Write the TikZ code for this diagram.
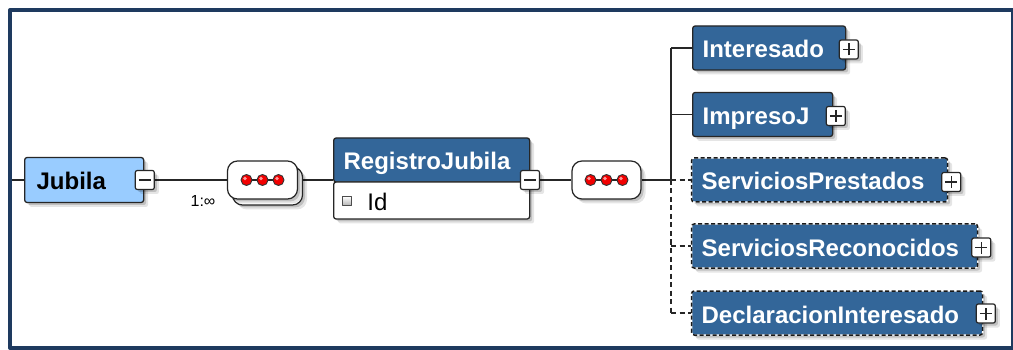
\documentclass[tikz,border=0pt]{standalone}
\usepackage{fontspec}
\setmainfont{Liberation Sans}
\usetikzlibrary{shadows,backgrounds}
\definecolor{hdrblue}{HTML}{336699}
\definecolor{ltblue}{HTML}{99CCFF}
\definecolor{framecol}{HTML}{1E3A5F}
\newcommand\elfont{\bfseries\fontsize{24}{28}\selectfont}
\newcommand\idfont{\fontsize{24}{28}\selectfont}
\newcommand\multfont{\fontsize{16}{18}\selectfont}
\begin{document}
\begin{tikzpicture}[x=1pt,y=-1pt,line join=round,
  shad/.style={drop shadow={shadow xshift=4.5pt,shadow yshift=-4.5pt,fill=black,opacity=.10},
               drop shadow={shadow xshift=2.5pt,shadow yshift=-2.5pt,fill=black,opacity=.16}},
  elem/.style={rectangle, rounded corners=2.5pt, draw=black!85, line width=1.3pt,
    fill=hdrblue, text=white, minimum height=44pt, inner xsep=10pt, inner ysep=0pt,
    anchor=west, text height=20pt, text depth=0pt, align=left, font=\elfont, shad},
  opt/.style={elem, draw=white, postaction={draw=black!90, line width=1.5pt, dash pattern=on 4pt off 2.5pt}},
  pmbox/.style={rectangle, draw=black!85, line width=1.2pt, fill=white, rounded corners=2pt,
    minimum size=19pt, inner sep=0pt, shad},
  minusbox/.style={pmbox, path picture={\draw[line width=1.6pt] ([xshift=-6pt]path picture bounding box.center) -- ([xshift=6pt]path picture bounding box.center);}},
  plusbox/.style={pmbox, path picture={\draw[line width=1.6pt] ([xshift=-6pt]path picture bounding box.center) -- ([xshift=6pt]path picture bounding box.center) ([yshift=-6pt]path picture bounding box.center) -- ([yshift=6pt]path picture bounding box.center);}},
  seqbox/.style={rectangle, rounded corners=10pt, draw=black!85, line width=1.2pt, fill=white,
    minimum width=70pt, minimum height=38pt, inner sep=0pt, shad},
  seqdots/.style={seqbox, path picture={
     \draw[line width=1.3pt] ([xshift=-16pt]path picture bounding box.center) -- ([xshift=16pt]path picture bounding box.center);
     \foreach \d in {-16,0,16}{
       \fill[red!95!black] ([xshift=\d pt]path picture bounding box.center) circle (5.5pt);
       \fill[red!40!white] ([shift={(\d pt-1.5pt,1.5pt)}]path picture bounding box.center) circle (1.8pt);
       \draw[line width=.9pt, black!80] ([xshift=\d pt]path picture bounding box.center) circle (5.5pt);}}},
  conn/.style={line width=1.3pt, black!85},
  optconn/.style={conn, line width=1.5pt, dash pattern=on 5pt off 3.5pt}]
\useasboundingbox (0,0) rectangle (1013,350);
\draw[framecol, line width=4pt] (10,10) rectangle (1012.7,348);

% root element
\node[elem, fill=ltblue, text=black, inner xsep=12pt, text width=95pt, minimum width=119pt, minimum height=45pt] (jubila) at (24,180) {Jubila};
\node[minusbox] (jminus) at ([xshift=0.5pt]jubila.east) {};
\node[font=\multfont] (mult) at (203,201) {1:∞};

% sequence with multiplicity
\node[seqbox] (seq1b) at (267.5,186) {};
\node[seqdots] (seq1) at (262.5,180) {};

% RegistroJubila
\node[elem, text width=176pt, minimum width=196pt] (rjhead) at (333,160) {RegistroJubila};
\node[elem, fill=white, text=black, font=\idfont, inner xsep=33.7pt, text width=128.6pt, minimum width=196pt, minimum height=37pt] (rjbody) at (333,200.5) {Id};
\node[rectangle, draw=black!70, line width=.8pt, top color=white, bottom color=gray!60, minimum size=9pt, inner sep=0pt] (idicon) at (347,201) {};
\node[minusbox] (rjminus) at (530,180) {};

% second sequence
\node[seqdots, minimum width=69pt] (seq2) at (606.5,180) {};

% children
\node[elem, text width=133pt, minimum width=153pt] (interesado) at (692,48) {Interesado};
\node[plusbox] (p1) at ([shift={(2.5,1.5)}]interesado.east) {};
\node[elem, text width=120pt, minimum width=140pt] (impreso) at (692,114.5) {ImpresoJ};
\node[plusbox] (p2) at ([shift={(2.5,1.5)}]impreso.east) {};
\node[opt, text width=236pt, minimum width=256pt] (sp) at (691,180) {ServiciosPrestados};
\node[plusbox] (p3) at ([shift={(3,2)}]sp.east) {};
\node[opt, text width=266pt, minimum width=286pt] (sr) at (691,246) {ServiciosReconocidos};
\node[plusbox] (p4) at ([shift={(3,1.5)}]sr.east) {};
\node[opt, text width=271pt, minimum width=291pt] (di) at (691,313) {DeclaracionInteresado};
\node[plusbox] (p5) at ([shift={(2.5,0.5)}]di.east) {};

\coordinate (jstart) at (12,180);
\coordinate (busTop) at (671,48);
\coordinate (busMid) at (671,180);
\coordinate (busBot) at (671,313);

\begin{scope}[on background layer]
\fill[white] (12,12) rectangle (1010,346);
\draw[conn] (jstart) -- (jubila.west);
\draw[conn] (jminus.east) -- (jminus.east -| seq1.west);
\draw[conn] (seq1.east) -- (seq1.east -| rjhead.west);
\draw[conn] (rjminus.east) -- (rjminus.east -| seq2.west);
\draw[conn] (seq2.east) -- (busMid);
\draw[conn] (busTop) -- (busMid);
\draw[optconn] (busMid) -- (busBot);
\draw[conn] (busTop) -- (interesado.west);
\draw[conn] (impreso.west -| busTop) -- (impreso.west);
\draw[optconn] (sp.west -| busTop) -- (sp.west);
\draw[optconn] (sr.west -| busTop) -- (sr.west);
\draw[optconn] (di.west -| busTop) -- (di.west);
\end{scope}
\end{tikzpicture}
\end{document}
